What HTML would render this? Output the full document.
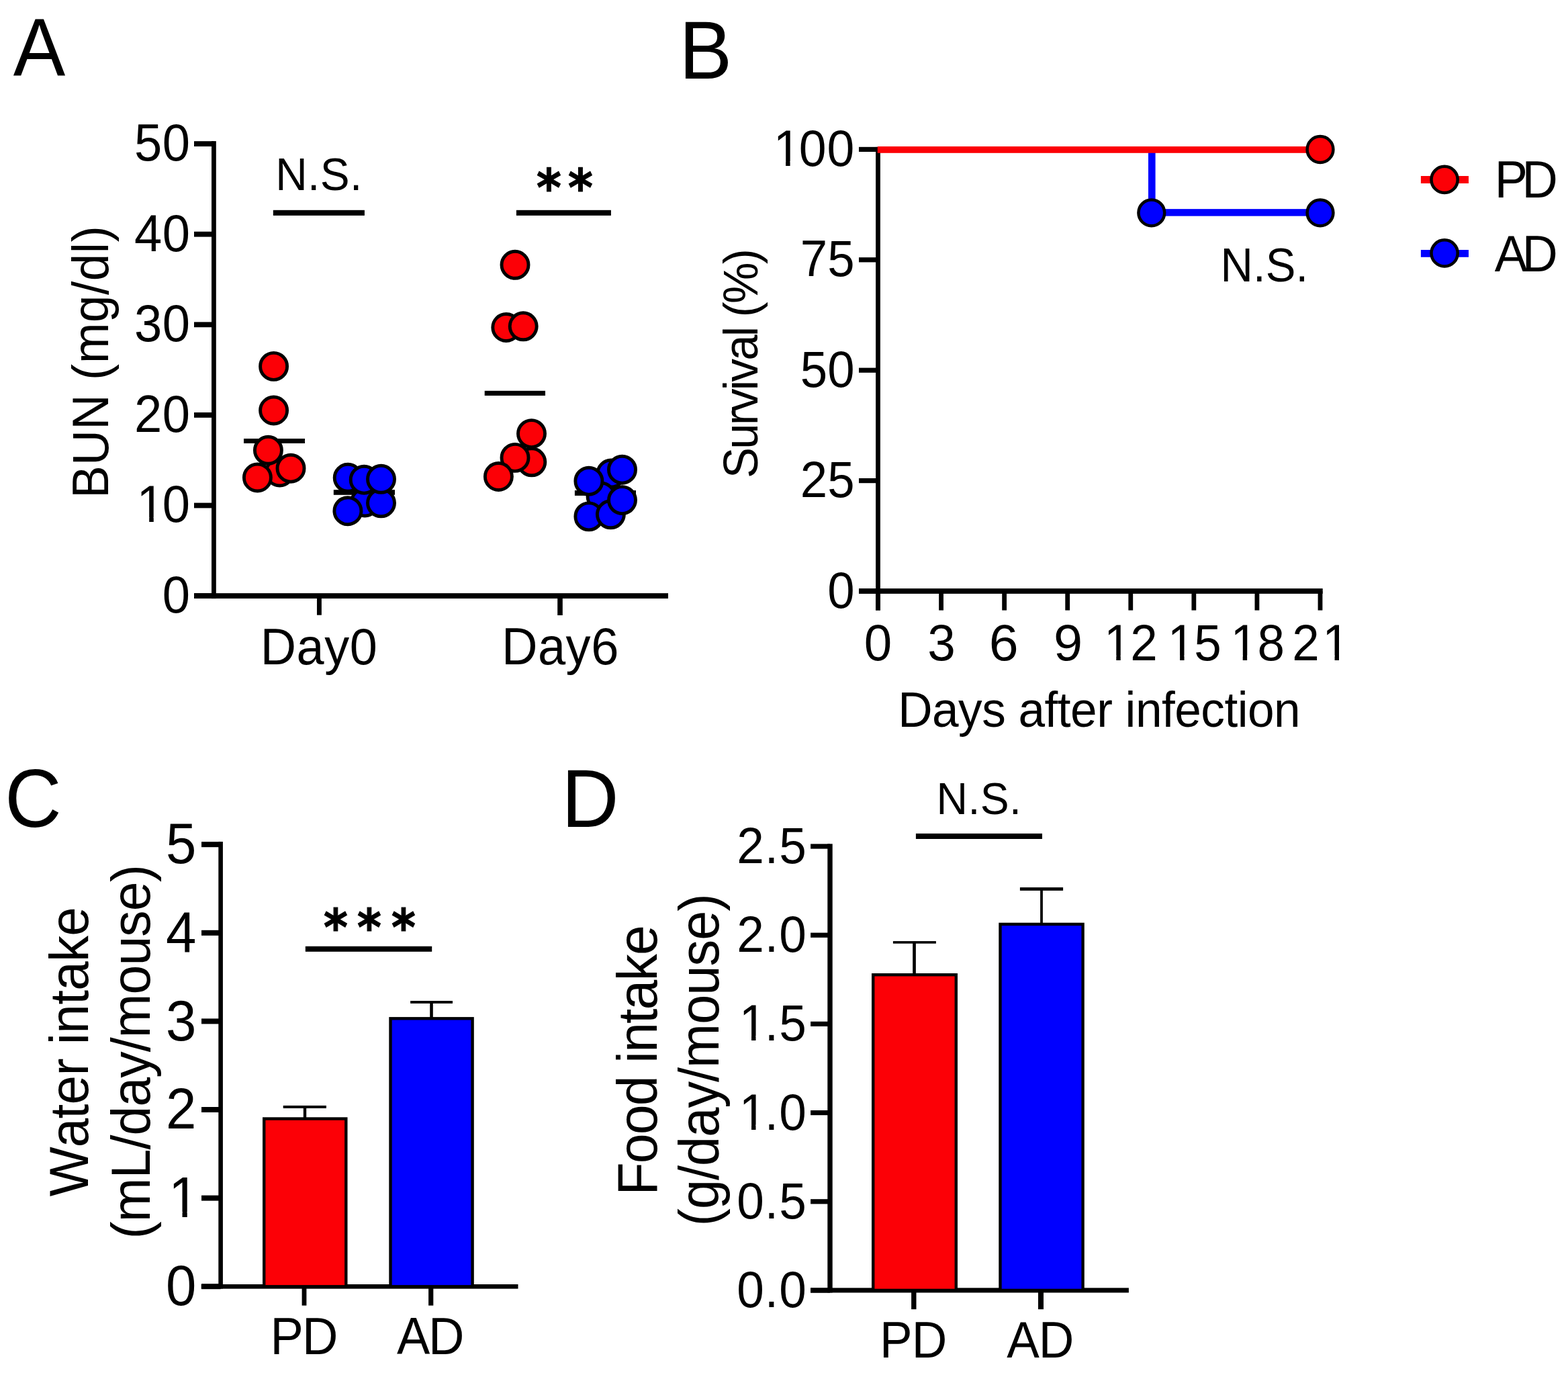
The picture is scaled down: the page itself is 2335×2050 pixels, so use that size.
<!DOCTYPE html>
<html><head><meta charset="utf-8"><title>Figure</title>
<style>html,body{margin:0;padding:0;background:#fff;width:2335px;height:2050px;overflow:hidden}text{font-kerning:none;font-variant-ligatures:none}</style>
</head><body>
<svg width="2335" height="2050" viewBox="0 0 2335 2050" style="display:block">
<rect width="2335" height="2050" fill="#fff"/>
<text transform="translate(19.87,113.00) scale(0.9512,1)" font-family="Liberation Sans, Arial, sans-serif" font-size="122.24">A</text>
<rect x="315.00" y="210.10" width="6.80" height="681.00" fill="#000"/>
<rect x="289.00" y="883.20" width="29.40" height="7.80" fill="#000"/>
<rect x="289.00" y="748.60" width="29.40" height="7.80" fill="#000"/>
<rect x="289.00" y="614.00" width="29.40" height="7.80" fill="#000"/>
<rect x="289.00" y="479.40" width="29.40" height="7.80" fill="#000"/>
<rect x="289.00" y="344.80" width="29.40" height="7.80" fill="#000"/>
<rect x="289.00" y="210.20" width="29.40" height="7.80" fill="#000"/>
<rect x="289.00" y="883.15" width="706.00" height="7.90" fill="#000"/>
<rect x="471.95" y="887.00" width="6.90" height="28.70" fill="#000"/>
<rect x="830.20" y="887.00" width="7.60" height="29.00" fill="#000"/>
<text transform="translate(241.65,911.95) scale(0.9600,1)" font-family="Liberation Sans, Arial, sans-serif" font-size="77.26" letter-spacing="0.488">0</text>
<clipPath id="c1_1" clipPathUnits="userSpaceOnUse"><rect x="-5000" y="-5000" width="10000" height="4992.728"/><rect x="-5000.000" y="-7.272" width="5007.545" height="5000"/><rect x="23.200" y="-7.272" width="6.828" height="5000"/><rect x="45.269" y="-7.272" width="5000" height="5000"/></clipPath><text transform="translate(199.93,777.35) scale(0.9600,1)" clip-path="url(#c1_1)" font-family="Liberation Sans, Arial, sans-serif" font-size="77.26" letter-spacing="0.488"><tspan dx="3.77">1</tspan><tspan dx="-3.77">0</tspan></text>
<text transform="translate(199.93,642.75) scale(0.9600,1)" font-family="Liberation Sans, Arial, sans-serif" font-size="77.26" letter-spacing="0.488">20</text>
<text transform="translate(199.93,508.15) scale(0.9600,1)" font-family="Liberation Sans, Arial, sans-serif" font-size="77.26" letter-spacing="0.488">30</text>
<text transform="translate(199.93,373.55) scale(0.9600,1)" font-family="Liberation Sans, Arial, sans-serif" font-size="77.26" letter-spacing="0.488">40</text>
<text transform="translate(199.93,238.95) scale(0.9600,1)" font-family="Liberation Sans, Arial, sans-serif" font-size="77.26" letter-spacing="0.488">50</text>
<text transform="translate(387.65,988.90) scale(0.9600,1)" font-family="Liberation Sans, Arial, sans-serif" font-size="76.86" letter-spacing="0.691">Day0</text>
<text transform="translate(746.92,989.00) scale(0.9600,1)" font-family="Liberation Sans, Arial, sans-serif" font-size="77.14" letter-spacing="0.536">Day6</text>
<text transform="translate(161.10,741.76) rotate(-90) scale(0.9600,1)" font-family="Liberation Sans, Arial, sans-serif" font-size="75.70" letter-spacing="0.596">BUN (mg/dl)</text>
<text transform="translate(410.21,283.20) scale(0.9600,1)" font-family="Liberation Sans, Arial, sans-serif" font-size="68.46" letter-spacing="0.477">N.S.</text>
<rect x="406.80" y="312.80" width="136.10" height="8.10" fill="#000"/>
<rect x="768.90" y="312.80" width="141.00" height="8.10" fill="#000"/>
<text transform="translate(798.99,305.67) scale(0.9132,1)" font-family="DejaVu Sans, sans-serif" font-weight="bold" font-size="77.10" stroke="#000" stroke-width="1.205">*</text>
<text transform="translate(846.09,305.67) scale(0.9132,1)" font-family="DejaVu Sans, sans-serif" font-weight="bold" font-size="77.10" stroke="#000" stroke-width="1.205">*</text>
<rect x="363.00" y="653.00" width="91.00" height="7.00" fill="#000"/>
<rect x="496.80" y="729.20" width="91.20" height="7.60" fill="#000"/>
<rect x="721.70" y="581.80" width="90.30" height="7.20" fill="#000"/>
<rect x="855.90" y="730.10" width="91.10" height="7.80" fill="#000"/>
<circle cx="416.50" cy="703.00" r="20.0" fill="#fc0006" stroke="#000" stroke-width="4.9"/>
<circle cx="407.60" cy="545.40" r="20.0" fill="#fc0006" stroke="#000" stroke-width="4.9"/>
<circle cx="407.60" cy="611.00" r="20.0" fill="#fc0006" stroke="#000" stroke-width="4.9"/>
<circle cx="433.00" cy="697.20" r="20.0" fill="#fc0006" stroke="#000" stroke-width="4.9"/>
<circle cx="383.40" cy="711.00" r="20.0" fill="#fc0006" stroke="#000" stroke-width="4.9"/>
<circle cx="399.40" cy="670.30" r="20.0" fill="#fc0006" stroke="#000" stroke-width="4.9"/>
<circle cx="543.30" cy="748.00" r="20.0" fill="#0000ff" stroke="#000" stroke-width="4.9"/>
<circle cx="517.90" cy="760.70" r="20.0" fill="#0000ff" stroke="#000" stroke-width="4.9"/>
<circle cx="567.50" cy="748.80" r="20.0" fill="#0000ff" stroke="#000" stroke-width="4.9"/>
<circle cx="518.20" cy="711.30" r="20.0" fill="#0000ff" stroke="#000" stroke-width="4.9"/>
<circle cx="542.20" cy="714.20" r="20.0" fill="#0000ff" stroke="#000" stroke-width="4.9"/>
<circle cx="567.50" cy="713.30" r="20.0" fill="#0000ff" stroke="#000" stroke-width="4.9"/>
<circle cx="767.00" cy="394.30" r="20.0" fill="#fc0006" stroke="#000" stroke-width="4.9"/>
<circle cx="753.80" cy="487.50" r="20.0" fill="#fc0006" stroke="#000" stroke-width="4.9"/>
<circle cx="779.20" cy="485.80" r="20.0" fill="#fc0006" stroke="#000" stroke-width="4.9"/>
<circle cx="791.80" cy="687.80" r="20.0" fill="#fc0006" stroke="#000" stroke-width="4.9"/>
<circle cx="791.50" cy="645.60" r="20.0" fill="#fc0006" stroke="#000" stroke-width="4.9"/>
<circle cx="767.00" cy="681.40" r="20.0" fill="#fc0006" stroke="#000" stroke-width="4.9"/>
<circle cx="742.40" cy="709.50" r="20.0" fill="#fc0006" stroke="#000" stroke-width="4.9"/>
<circle cx="910.00" cy="705.00" r="20.0" fill="#0000ff" stroke="#000" stroke-width="4.9"/>
<circle cx="895.00" cy="739.00" r="20.0" fill="#0000ff" stroke="#000" stroke-width="4.9"/>
<circle cx="876.90" cy="768.90" r="20.0" fill="#0000ff" stroke="#000" stroke-width="4.9"/>
<circle cx="909.40" cy="765.80" r="20.0" fill="#0000ff" stroke="#000" stroke-width="4.9"/>
<circle cx="876.90" cy="716.20" r="20.0" fill="#0000ff" stroke="#000" stroke-width="4.9"/>
<circle cx="926.50" cy="699.20" r="20.0" fill="#0000ff" stroke="#000" stroke-width="4.9"/>
<circle cx="926.50" cy="744.60" r="20.0" fill="#0000ff" stroke="#000" stroke-width="4.9"/>
<text transform="translate(1011.29,116.90) scale(0.9695,1)" font-family="Liberation Sans, Arial, sans-serif" font-size="122.10">B</text>
<rect x="1304.10" y="218.90" width="6.80" height="689.70" fill="#000"/>
<rect x="1279.00" y="876.40" width="28.50" height="7.20" fill="#000"/>
<rect x="1279.00" y="712.00" width="28.50" height="7.20" fill="#000"/>
<rect x="1279.00" y="547.60" width="28.50" height="7.20" fill="#000"/>
<rect x="1279.00" y="383.20" width="28.50" height="7.20" fill="#000"/>
<rect x="1279.00" y="218.80" width="28.50" height="7.20" fill="#000"/>
<rect x="1279.10" y="876.10" width="690.60" height="7.80" fill="#000"/>
<rect x="1304.10" y="880.00" width="6.80" height="28.60" fill="#000"/>
<rect x="1398.17" y="880.00" width="6.80" height="28.60" fill="#000"/>
<rect x="1492.24" y="880.00" width="6.80" height="28.60" fill="#000"/>
<rect x="1586.31" y="880.00" width="6.80" height="28.60" fill="#000"/>
<rect x="1680.38" y="880.00" width="6.80" height="28.60" fill="#000"/>
<rect x="1774.45" y="880.00" width="6.80" height="28.60" fill="#000"/>
<rect x="1868.52" y="880.00" width="6.80" height="28.60" fill="#000"/>
<rect x="1962.59" y="880.00" width="6.80" height="28.60" fill="#000"/>
<text transform="translate(1232.29,904.66) scale(0.9600,1)" font-family="Liberation Sans, Arial, sans-serif" font-size="75.56" letter-spacing="0.156">0</text>
<text transform="translate(1191.80,740.26) scale(0.9600,1)" font-family="Liberation Sans, Arial, sans-serif" font-size="75.56" letter-spacing="0.156">25</text>
<text transform="translate(1191.80,575.86) scale(0.9600,1)" font-family="Liberation Sans, Arial, sans-serif" font-size="75.56" letter-spacing="0.156">50</text>
<text transform="translate(1191.80,411.46) scale(0.9600,1)" font-family="Liberation Sans, Arial, sans-serif" font-size="75.56" letter-spacing="0.156">75</text>
<clipPath id="c1_2" clipPathUnits="userSpaceOnUse"><rect x="-5000" y="-5000" width="10000" height="4992.792"/><rect x="-5000.000" y="-7.208" width="5007.462" height="5000"/><rect x="22.946" y="-7.208" width="6.753" height="5000"/><rect x="44.772" y="-7.208" width="5000" height="5000"/></clipPath><text transform="translate(1148.06,247.25) scale(0.9600,1)" clip-path="url(#c1_2)" font-family="Liberation Sans, Arial, sans-serif" font-size="76.41" letter-spacing="0.997"><tspan dx="3.73">1</tspan><tspan dx="-3.73">0</tspan>0</text>
<text transform="translate(1286.69,982.94) scale(0.9819,1)" font-family="Liberation Sans, Arial, sans-serif" font-size="75.85">0</text>
<text transform="translate(1381.16,982.94) scale(0.9844,1)" font-family="Liberation Sans, Arial, sans-serif" font-size="75.85">3</text>
<text transform="translate(1472.79,982.94) scale(1.0401,1)" font-family="Liberation Sans, Arial, sans-serif" font-size="75.85">6</text>
<text transform="translate(1569.07,982.94) scale(1.0218,1)" font-family="Liberation Sans, Arial, sans-serif" font-size="75.85">9</text>
<clipPath id="c1_3" clipPathUnits="userSpaceOnUse"><rect x="-5000" y="-5000" width="10000" height="4992.834"/><rect x="-5000.000" y="-7.166" width="5007.407" height="5000"/><rect x="22.776" y="-7.166" width="6.703" height="5000"/><rect x="44.442" y="-7.166" width="5000" height="5000"/></clipPath><text transform="translate(1640.44,982.94) scale(0.9600,1)" clip-path="url(#c1_3)" font-family="Liberation Sans, Arial, sans-serif" font-size="75.85" letter-spacing="2.323"><tspan dx="3.70">1</tspan><tspan dx="-3.70">2</tspan></text>
<clipPath id="c1_4" clipPathUnits="userSpaceOnUse"><rect x="-5000" y="-5000" width="10000" height="4992.834"/><rect x="-5000.000" y="-7.166" width="5007.407" height="5000"/><rect x="22.776" y="-7.166" width="6.703" height="5000"/><rect x="44.442" y="-7.166" width="5000" height="5000"/></clipPath><text transform="translate(1735.24,982.94) scale(0.9600,1)" clip-path="url(#c1_4)" font-family="Liberation Sans, Arial, sans-serif" font-size="75.85" letter-spacing="2.736"><tspan dx="3.70">1</tspan><tspan dx="-3.70">5</tspan></text>
<clipPath id="c1_5" clipPathUnits="userSpaceOnUse"><rect x="-5000" y="-5000" width="10000" height="4992.834"/><rect x="-5000.000" y="-7.166" width="5007.407" height="5000"/><rect x="22.776" y="-7.166" width="6.703" height="5000"/><rect x="44.442" y="-7.166" width="5000" height="5000"/></clipPath><text transform="translate(1828.84,982.94) scale(0.9600,1)" clip-path="url(#c1_5)" font-family="Liberation Sans, Arial, sans-serif" font-size="75.85" letter-spacing="3.367"><tspan dx="3.70">1</tspan><tspan dx="-3.70">8</tspan></text>
<clipPath id="c1_6" clipPathUnits="userSpaceOnUse"><rect x="-5000" y="-5000" width="10000" height="4992.834"/><rect x="-5000.000" y="-7.166" width="5050.596" height="5000"/><rect x="65.965" y="-7.166" width="6.703" height="5000"/><rect x="87.631" y="-7.166" width="5000" height="5000"/></clipPath><text transform="translate(1924.24,982.94) scale(0.9600,1)" clip-path="url(#c1_6)" font-family="Liberation Sans, Arial, sans-serif" font-size="75.85" letter-spacing="1.006">2<tspan dx="3.70">1</tspan></text>
<text transform="translate(1337.16,1081.90) scale(0.9600,1)" font-family="Liberation Sans, Arial, sans-serif" font-size="74.16" letter-spacing="-0.543">Days after infection</text>
<text transform="translate(1128.40,712.03) rotate(-90) scale(0.9600,1)" font-family="Liberation Sans, Arial, sans-serif" font-size="71.90" letter-spacing="-2.870">Survival (%)</text>
<text transform="translate(1817.51,419.00) scale(0.9600,1)" font-family="Liberation Sans, Arial, sans-serif" font-size="69.77" letter-spacing="0.087">N.S.</text>
<rect x="1710.00" y="222.50" width="10.60" height="93.90" fill="#0000ff"/>
<rect x="1715.30" y="311.15" width="250.70" height="10.50" fill="#0000ff"/>
<rect x="1306.80" y="218.00" width="659.20" height="9.80" fill="#fc0006"/>
<circle cx="1966.00" cy="222.50" r="19.4" fill="#fc0006" stroke="#000" stroke-width="4.5"/>
<circle cx="1714.80" cy="316.80" r="19.4" fill="#0000ff" stroke="#000" stroke-width="4.5"/>
<circle cx="1966.00" cy="316.80" r="19.4" fill="#0000ff" stroke="#000" stroke-width="4.5"/>
<rect x="2115.90" y="262.00" width="71.10" height="11.00" fill="#fc0006"/>
<circle cx="2151.10" cy="267.40" r="19.6" fill="#fc0006" stroke="#000" stroke-width="4.5"/>
<rect x="2115.90" y="372.00" width="71.10" height="10.80" fill="#0000ff"/>
<circle cx="2151.10" cy="376.90" r="19.6" fill="#0000ff" stroke="#000" stroke-width="4.5"/>
<text transform="translate(2225.74,293.90) scale(0.9600,1)" font-family="Liberation Sans, Arial, sans-serif" font-size="76.89" letter-spacing="-8.910">PD</text>
<text transform="translate(2225.86,403.60) scale(0.9600,1)" font-family="Liberation Sans, Arial, sans-serif" font-size="76.45" letter-spacing="-8.442">AD</text>
<text transform="translate(7.17,1230.81) scale(0.9609,1)" font-family="Liberation Sans, Arial, sans-serif" font-size="121.61">C</text>
<rect x="325.30" y="1253.10" width="6.60" height="665.40" fill="#000"/>
<rect x="300.00" y="1911.20" width="28.60" height="8.00" fill="#000"/>
<rect x="300.00" y="1779.60" width="28.60" height="8.00" fill="#000"/>
<rect x="300.00" y="1648.00" width="28.60" height="8.00" fill="#000"/>
<rect x="300.00" y="1516.40" width="28.60" height="8.00" fill="#000"/>
<rect x="300.00" y="1384.80" width="28.60" height="8.00" fill="#000"/>
<rect x="300.00" y="1253.20" width="28.60" height="8.00" fill="#000"/>
<rect x="299.70" y="1912.00" width="471.80" height="6.60" fill="#000"/>
<rect x="449.60" y="1915.00" width="6.80" height="28.60" fill="#000"/>
<rect x="638.10" y="1915.00" width="7.20" height="28.60" fill="#000"/>
<text transform="translate(247.03,1943.30) scale(0.9658,1)" font-family="Liberation Sans, Arial, sans-serif" font-size="84.45">0</text>
<clipPath id="c1_7" clipPathUnits="userSpaceOnUse"><rect x="-5000" y="-5000" width="10000" height="4992.191"/><rect x="-5000.000" y="-7.809" width="5008.247" height="5000"/><rect x="25.359" y="-7.809" width="7.464" height="5000"/><rect x="49.482" y="-7.809" width="5000" height="5000"/></clipPath><text transform="translate(247.03,1811.70) scale(0.9658,1)" clip-path="url(#c1_7)" font-family="Liberation Sans, Arial, sans-serif" font-size="84.45"><tspan dx="4.12">1</tspan></text>
<text transform="translate(247.03,1680.10) scale(0.9658,1)" font-family="Liberation Sans, Arial, sans-serif" font-size="84.45">2</text>
<text transform="translate(247.03,1548.50) scale(0.9658,1)" font-family="Liberation Sans, Arial, sans-serif" font-size="84.45">3</text>
<text transform="translate(247.03,1416.90) scale(0.9658,1)" font-family="Liberation Sans, Arial, sans-serif" font-size="84.45">4</text>
<text transform="translate(247.03,1285.30) scale(0.9658,1)" font-family="Liberation Sans, Arial, sans-serif" font-size="84.45">5</text>
<text transform="translate(402.43,2016.10) scale(0.9600,1)" font-family="Liberation Sans, Arial, sans-serif" font-size="77.04" letter-spacing="-1.697">PD</text>
<text transform="translate(590.96,2016.10) scale(0.9600,1)" font-family="Liberation Sans, Arial, sans-serif" font-size="77.04" letter-spacing="-2.346">AD</text>
<text transform="translate(130.80,1781.34) rotate(-90) scale(0.9600,1)" font-family="Liberation Sans, Arial, sans-serif" font-size="81.60" letter-spacing="-0.796">Water intake</text>
<text transform="translate(222.70,1844.49) rotate(-90) scale(0.9600,1)" font-family="Liberation Sans, Arial, sans-serif" font-size="82.16" letter-spacing="-0.975">(mL/day/mouse)</text>
<rect x="451.80" y="1648.00" width="4.40" height="17.00" fill="#000"/>
<rect x="421.70" y="1645.90" width="64.20" height="4.00" fill="#000"/>
<rect x="640.20" y="1492.00" width="4.60" height="24.00" fill="#000"/>
<rect x="611.10" y="1490.00" width="62.90" height="3.90" fill="#000"/>
<rect x="393.20" y="1665.50" width="122.10" height="249.80" fill="#fc0006" stroke="#000" stroke-width="4.4"/>
<rect x="581.50" y="1516.30" width="122.10" height="399.00" fill="#0000ff" stroke="#000" stroke-width="4.4"/>
<rect x="454.80" y="1408.80" width="188.40" height="8.00" fill="#000"/>
<text transform="translate(482.08,1407.17) scale(0.9146,1)" font-family="DejaVu Sans, sans-serif" font-weight="bold" font-size="74.94" stroke="#000" stroke-width="1.203">*</text>
<text transform="translate(531.98,1407.17) scale(0.9146,1)" font-family="DejaVu Sans, sans-serif" font-weight="bold" font-size="74.94" stroke="#000" stroke-width="1.203">*</text>
<text transform="translate(583.08,1407.17) scale(0.9146,1)" font-family="DejaVu Sans, sans-serif" font-weight="bold" font-size="74.94" stroke="#000" stroke-width="1.203">*</text>
<text transform="translate(836.32,1231.00) scale(0.9689,1)" font-family="Liberation Sans, Arial, sans-serif" font-size="121.80">D</text>
<rect x="1232.30" y="1256.30" width="7.40" height="668.10" fill="#000"/>
<rect x="1207.10" y="1917.40" width="28.90" height="7.20" fill="#000"/>
<rect x="1207.10" y="1785.20" width="28.90" height="7.20" fill="#000"/>
<rect x="1207.10" y="1653.00" width="28.90" height="7.20" fill="#000"/>
<rect x="1207.10" y="1520.80" width="28.90" height="7.20" fill="#000"/>
<rect x="1207.10" y="1388.60" width="28.90" height="7.20" fill="#000"/>
<rect x="1207.10" y="1256.40" width="28.90" height="7.20" fill="#000"/>
<rect x="1207.00" y="1917.35" width="473.90" height="7.10" fill="#000"/>
<rect x="1357.10" y="1920.00" width="7.40" height="29.20" fill="#000"/>
<rect x="1546.00" y="1920.00" width="8.00" height="29.20" fill="#000"/>
<text transform="translate(1097.13,1946.06) scale(0.9600,1)" font-family="Liberation Sans, Arial, sans-serif" font-size="75.99" letter-spacing="1.158">0.0</text>
<text transform="translate(1097.13,1813.86) scale(0.9600,1)" font-family="Liberation Sans, Arial, sans-serif" font-size="75.99" letter-spacing="1.158">0.5</text>
<clipPath id="c1_8" clipPathUnits="userSpaceOnUse"><rect x="-5000" y="-5000" width="10000" height="4992.823"/><rect x="-5000.000" y="-7.177" width="5007.421" height="5000"/><rect x="22.819" y="-7.177" width="6.716" height="5000"/><rect x="44.524" y="-7.177" width="5000" height="5000"/></clipPath><text transform="translate(1097.13,1681.66) scale(0.9600,1)" clip-path="url(#c1_8)" font-family="Liberation Sans, Arial, sans-serif" font-size="75.99" letter-spacing="1.158"><tspan dx="3.71">1</tspan><tspan dx="-3.71">.</tspan>0</text>
<clipPath id="c1_9" clipPathUnits="userSpaceOnUse"><rect x="-5000" y="-5000" width="10000" height="4992.823"/><rect x="-5000.000" y="-7.177" width="5007.421" height="5000"/><rect x="22.819" y="-7.177" width="6.716" height="5000"/><rect x="44.524" y="-7.177" width="5000" height="5000"/></clipPath><text transform="translate(1097.13,1549.46) scale(0.9600,1)" clip-path="url(#c1_9)" font-family="Liberation Sans, Arial, sans-serif" font-size="75.99" letter-spacing="1.158"><tspan dx="3.71">1</tspan><tspan dx="-3.71">.</tspan>5</text>
<text transform="translate(1097.13,1417.26) scale(0.9600,1)" font-family="Liberation Sans, Arial, sans-serif" font-size="75.99" letter-spacing="1.158">2.0</text>
<text transform="translate(1097.13,1285.06) scale(0.9600,1)" font-family="Liberation Sans, Arial, sans-serif" font-size="75.99" letter-spacing="1.158">2.5</text>
<text transform="translate(1309.92,2020.80) scale(0.9600,1)" font-family="Liberation Sans, Arial, sans-serif" font-size="75.87" letter-spacing="-0.754">PD</text>
<text transform="translate(1499.26,2020.80) scale(0.9600,1)" font-family="Liberation Sans, Arial, sans-serif" font-size="75.87" letter-spacing="-1.205">AD</text>
<text transform="translate(977.90,1779.61) rotate(-90) scale(0.9600,1)" font-family="Liberation Sans, Arial, sans-serif" font-size="83.99" letter-spacing="-1.962">Food intake</text>
<text transform="translate(1069.90,1825.52) rotate(-90) scale(0.9600,1)" font-family="Liberation Sans, Arial, sans-serif" font-size="82.67" letter-spacing="-1.032">(g/day/mouse)</text>
<rect x="1359.15" y="1403.00" width="4.70" height="48.00" fill="#000"/>
<rect x="1329.90" y="1401.10" width="64.00" height="3.60" fill="#000"/>
<rect x="1549.10" y="1323.50" width="3.80" height="52.50" fill="#000"/>
<rect x="1518.90" y="1321.10" width="64.20" height="4.80" fill="#000"/>
<rect x="1300.20" y="1451.20" width="123.60" height="469.70" fill="#fc0006" stroke="#000" stroke-width="4.4"/>
<rect x="1489.50" y="1375.90" width="123.10" height="545.00" fill="#0000ff" stroke="#000" stroke-width="4.4"/>
<rect x="1363.90" y="1240.90" width="188.10" height="8.10" fill="#000"/>
<text transform="translate(1394.52,1211.80) scale(0.9600,1)" font-family="Liberation Sans, Arial, sans-serif" font-size="67.01" letter-spacing="0.467">N.S.</text>
</svg>
</body></html>
